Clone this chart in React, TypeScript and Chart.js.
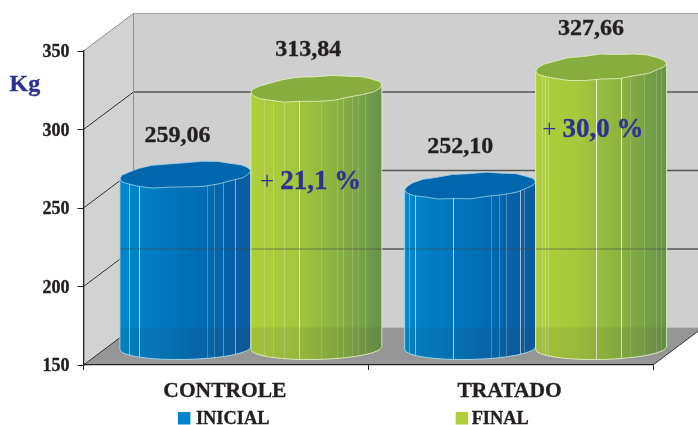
import React, { useEffect, useRef } from "react";
import { Chart, registerables } from "chart.js";

Chart.register(...registerables);

const categories = ["CONTROLE", "TRATADO"];
const inicial = [259.06, 252.1];
const final = [313.84, 327.66];
const gainText = ["21,1 %", "30,0 %"];
const gainAtValue = [266.5, 299.7];
const yTicks = [150, 200, 250, 300, 350];

const FONT = '"Liberation Serif", "Times New Roman", serif';
const INK = "#231f20";
const NAVY = "#2e3192";
const BLUE = "#0085ca";
const GREEN = "#aecf3a";
const BLUE_TOP = "#0067ae";
const GREEN_TOP = "#86ad3e";

const blueStops = ["#0088cd", "#0078c0", "#0068b0", "#0d5a9e"];
const greenStops = ["#afd03a", "#a5c73c", "#88b040", "#67924a"];

// depth of the 3D box and of the mid-plane the cylinders stand on
const DX = 50;
const DY = -37.5;
const BAR_DX = 25;
const BAR_DY = -15;

// facet seams of each cylinder: [fraction across, opacity]
const facets: number[][][][] = [
  [
    [[0.066, 0.55], [0.148, 0.8], [0.662, 0.3], [0.719, 0.25], [0.785, 0.4], [0.877, 0.55]],
    [[0.031, 0.4], [0.077, 0.7], [0.371, 0.8], [0.662, 0.3], [0.723, 0.3], [0.777, 0.3], [0.877, 0.7], [0.908, 0.3]],
  ],
  [
    [[0.098, 0.25], [0.167, 0.25], [0.25, 0.3], [0.367, 0.8], [0.538, 0.2], [0.659, 0.22], [0.705, 0.25], [0.773, 0.2], [0.818, 0.2], [0.871, 0.2]],
    [[0.045, 0.3], [0.068, 0.4], [0.098, 0.3], [0.462, 0.9], [0.652, 0.9], [0.72, 0.2], [0.826, 0.2], [0.917, 0.2], [0.955, 0.2]],
  ],
];
// slight unevenness of the cylinder rims
const rimWobble = [0.6, -0.5, 0.7, -0.8, 0.4, 0.9, -0.5, -0.9, 0.6, 0.2, -0.7, 0.8, -0.3, 0.7, -0.8, 0.5, 0.9, -0.4, -0.7, 0.5, 0.8, -0.6, 0.3, -0.5];

function bodyGradient(ctx: CanvasRenderingContext2D, left: number, right: number, stops: string[]) {
  const g = ctx.createLinearGradient(left, 0, right, 0);
  g.addColorStop(0, stops[0]);
  g.addColorStop(0.33, stops[1]);
  g.addColorStop(0.68, stops[2]);
  g.addColorStop(1, stops[3]);
  return g;
}

function rimPath(ctx: CanvasRenderingContext2D, cx: number, cy: number, rx: number, ry: number, tilt: number, seed: number) {
  const n = rimWobble.length;
  ctx.beginPath();
  for (let i = 0; i < n; i++) {
    const t = (i / n) * Math.PI * 2;
    const w = rimWobble[(i + seed) % n];
    const ex = (rx + (i === 0 || i === n / 2 ? 0 : w * 0.5)) * Math.cos(t);
    const ey = (ry + w * 0.8) * Math.sin(t);
    const x = cx + ex * Math.cos(tilt) - ey * Math.sin(tilt);
    const y = cy + ex * Math.sin(tilt) + ey * Math.cos(tilt);
    if (i === 0) ctx.moveTo(x, y);
    else ctx.lineTo(x, y);
  }
  ctx.closePath();
}

function boldText(ctx: CanvasRenderingContext2D, txt: string, x: number, y: number) {
  ctx.strokeStyle = ctx.fillStyle as string;
  ctx.lineWidth = 0.35;
  ctx.strokeText(txt, x, y);
  ctx.fillText(txt, x, y);
}

const box3d = {
  id: "box3d",
  beforeDraw(chart: any) {
    const { ctx, chartArea: a, scales } = chart;
    const y = scales.y;
    const l = a.left, r = a.right, t = a.top, b = a.bottom;
    ctx.save();
    ctx.fillStyle = "#cfcfcf";
    ctx.fillRect(l + DX, t + DY, r - l, b - t);
    ctx.fillStyle = "#d2d2d2";
    ctx.beginPath();
    ctx.moveTo(l, b);
    ctx.lineTo(l, t);
    ctx.lineTo(l + DX, t + DY);
    ctx.lineTo(l + DX, b + DY);
    ctx.closePath();
    ctx.fill();
    ctx.fillStyle = "#969696";
    ctx.beginPath();
    ctx.moveTo(l, b);
    ctx.lineTo(l + DX, b + DY);
    ctx.lineTo(r + DX, b + DY);
    ctx.lineTo(r, b);
    ctx.closePath();
    ctx.fill();
    yTicks.forEach((v) => {
      const p = y.getPixelForValue(v);
      const edge = v === 350;
      ctx.lineWidth = 1;
      ctx.strokeStyle = edge ? "#8f8f8f" : "#333333";
      if (v !== 150) {
        ctx.beginPath();
        ctx.moveTo(l, p);
        ctx.lineTo(l + DX, p + DY);
        ctx.stroke();
        ctx.lineWidth = edge ? 1 : 1.3;
        ctx.strokeStyle = edge ? "#a4a4a4" : "#575757";
        ctx.beginPath();
        ctx.moveTo(l + DX, p + DY);
        ctx.lineTo(r + DX, p + DY);
        ctx.stroke();
      } else {
        ctx.strokeStyle = "#333333";
        ctx.beginPath();
        ctx.moveTo(l, p);
        ctx.lineTo(l + DX, p + DY);
        ctx.moveTo(r, p);
        ctx.lineTo(r + DX, p + DY);
        ctx.stroke();
      }
    });
    ctx.lineWidth = 1;
    ctx.strokeStyle = "#8f8f8f";
    ctx.beginPath();
    ctx.moveTo(l + DX, t + DY);
    ctx.lineTo(l + DX, b + DY);
    ctx.stroke();
    ctx.restore();
  },
};

const cylinders = {
  id: "cylinders",
  afterDatasetsUpdate(chart: any) {
    const ctx = chart.ctx;
    chart.data.datasets.forEach((_: any, d: number) => {
      chart.getDatasetMeta(d).data.forEach((el: any) => {
        el.options = {
          ...el.options,
          backgroundColor: bodyGradient(ctx, el.x - el.width / 2, el.x + el.width / 2, d === 0 ? blueStops : greenStops),
        };
      });
    });
  },
  beforeDatasetDraw(chart: any) {
    chart.ctx.save();
    chart.ctx.translate(BAR_DX, BAR_DY);
  },
  afterDatasetDraw(chart: any) {
    chart.ctx.restore();
  },
  afterDatasetsDraw(chart: any) {
    const { ctx, scales } = chart;
    [0, 1].forEach((d) => {
      chart.getDatasetMeta(d).data.forEach((el: any, i: number) => {
        const left = el.x - el.width / 2 + BAR_DX;
        const right = el.x + el.width / 2 + BAR_DX;
        const cx = (left + right) / 2;
        const rx = (right - left) / 2;
        const topL = el.y + BAR_DY;
        const rise = 8;
        const topR = topL - rise;
        const baseC = el.base + BAR_DY - 1.5;
        const baseTilt = -0.022;
        const bodyPath = () => {
          ctx.beginPath();
          ctx.moveTo(left, topL);
          ctx.lineTo(right, topR);
          ctx.lineTo(right, baseC + rx * Math.sin(baseTilt));
          ctx.ellipse(cx, baseC, rx, 11.5, baseTilt, 0, Math.PI);
          ctx.closePath();
        };
        ctx.save();
        bodyPath();
        ctx.fillStyle = bodyGradient(ctx, left, right, d === 0 ? blueStops : greenStops);
        ctx.fill();
        ctx.clip();
        facets[d][i].forEach(([f, a]) => {
          const fx = Math.round(left + f * (right - left)) + 0.5;
          ctx.strokeStyle = `rgba(240,240,235,${a})`;
          ctx.lineWidth = 1;
          ctx.beginPath();
          ctx.moveTo(fx, 0);
          ctx.lineTo(fx, 425);
          ctx.stroke();
        });
        // the back wall shows faintly through the cylinders
        const gridY = scales.y.getPixelForValue(200) + DY;
        ctx.strokeStyle = "rgba(70,70,70,0.38)";
        ctx.lineWidth = 1.3;
        ctx.beginPath();
        ctx.moveTo(left, gridY);
        ctx.lineTo(right, gridY);
        ctx.stroke();
        const floorY = scales.y.getPixelForValue(150) + DY;
        ctx.fillStyle = "rgba(60,60,60,0.1)";
        ctx.fillRect(left, floorY, right - left, 60);
        ctx.restore();

        const tilt = Math.atan2(-rise, right - left);
        const topC = topL - rise / 2;
        rimPath(ctx, cx, topC, rx, 12.5, tilt, i * 5 + d * 3);
        ctx.fillStyle = d === 0 ? BLUE_TOP : GREEN_TOP;
        ctx.fill();
        ctx.strokeStyle = d === 0 ? "rgba(170,215,235,0.75)" : "rgba(225,240,190,0.85)";
        ctx.lineWidth = 1;
        ctx.stroke();

        // pale outline along the sides and the base
        ctx.strokeStyle = d === 0 ? "rgba(170,225,240,0.85)" : "rgba(225,240,190,0.9)";
        ctx.beginPath();
        ctx.moveTo(left, topL);
        ctx.lineTo(left, baseC - rx * Math.sin(baseTilt));
        ctx.ellipse(cx, baseC, rx, 11.5, baseTilt, Math.PI, 0, true);
        ctx.lineTo(right, topR);
        ctx.stroke();
      });
    });
  },
};

const annotations = {
  id: "annotations",
  afterDraw(chart: any) {
    const { ctx, scales } = chart;
    ctx.save();
    ctx.textBaseline = "middle";
    // value labels
    ctx.fillStyle = INK;
    ctx.textAlign = "center";
    ctx.font = `bold 24px ${FONT}`;
    chart.data.datasets.forEach((ds: any, d: number) => {
      chart.getDatasetMeta(d).data.forEach((el: any, i: number) => {
        const txt = ds.data[i].toFixed(2).replace(".", ",");
        boldText(ctx, txt, el.x + BAR_DX - 8 - i * 2, el.y + BAR_DY - 42.5);
      });
    });
    // gain labels
    ctx.textAlign = "left";
    ctx.fillStyle = NAVY;
    gainText.forEach((txt, i) => {
      const x = scales.x.getPixelForValue(i) + (i === 0 ? 34 : 31.5);
      const y = scales.y.getPixelForValue(gainAtValue[i]);
      ctx.font = `25px ${FONT}`;
      ctx.fillText("+ ", x, y);
      const w = ctx.measureText("+ ").width;
      ctx.font = `bold 27px ${FONT}`;
      boldText(ctx, txt, x + w, y);
    });
    // unit
    ctx.font = `bold 24px ${FONT}`;
    boldText(ctx, "Kg", 9.5, 84.5);
    // legend
    ctx.font = `bold 18.4px ${FONT}`;
    chart.data.datasets.forEach((ds: any, d: number) => {
      const x = scales.x.getPixelForValue(d) - 48 + d * -7;
      ctx.fillStyle = ds.backgroundColor;
      ctx.fillRect(x, 412, 12.5, 12.5);
      ctx.fillStyle = INK;
      boldText(ctx, ds.label, x + 18 - d * 2, 419);
    });
    ctx.restore();
  },
};

export default function App() {
  const ref = useRef<HTMLCanvasElement>(null);
  useEffect(() => {
    const chart = new Chart(ref.current as HTMLCanvasElement, {
      type: "bar",
      data: {
        labels: categories,
        datasets: [
          { label: "INICIAL", data: inicial, base: 150, backgroundColor: BLUE, borderWidth: 0, clip: false as any },
          { label: "FINAL", data: final, base: 150, backgroundColor: GREEN, borderWidth: 0, clip: false as any },
        ],
      },
      options: {
        responsive: false,
        animation: false,
        devicePixelRatio: 1,
        layout: { autoPadding: false, padding: { left: 0, right: 45, top: 51, bottom: 0 } },
        datasets: { bar: { barPercentage: 1, categoryPercentage: 0.92 } },
        plugins: { legend: { display: false }, title: { display: false }, tooltip: { enabled: false } },
        scales: {
          x: {
            afterFit: (s: any) => { s.height = 60; },
            border: { color: "#231f20", width: 1.3 },
            grid: { drawOnChartArea: false, drawTicks: true, tickLength: 5, color: "#231f20" },
            ticks: { color: INK, padding: 8.5, labelOffset: -1, maxRotation: 0, textStrokeColor: INK, textStrokeWidth: 0.35, font: { family: FONT, size: 21.5, weight: "bold" } },
          },
          y: {
            min: 150,
            max: 350,
            afterFit: (s: any) => { s.width = 83.5; },
            border: { color: "#231f20", width: 1.3 },
            grid: { drawOnChartArea: false, drawTicks: true, tickLength: 6, color: "#231f20" },
            ticks: { stepSize: 50, color: INK, padding: 8, labelOffset: 1.5, autoSkip: false, textStrokeColor: INK, textStrokeWidth: 0.35, font: { family: FONT, size: 18, weight: "bold" } },
          },
        },
      },
      plugins: [box3d, cylinders, annotations],
    } as any);
    return () => chart.destroy();
  }, []);
  return (
    <div style={{ position: "absolute", left: 0, top: 0, width: 698, height: 425, overflow: "hidden", background: "#fff" }}>
      <canvas ref={ref} width={698} height={425} style={{ display: "block" }} />
    </div>
  );
}
